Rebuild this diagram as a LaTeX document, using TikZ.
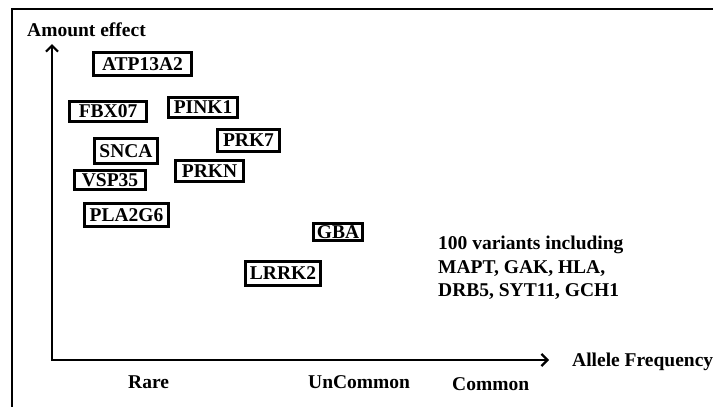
\documentclass[tikz,border=0pt]{standalone}
\usepackage{fontspec}
\setmainfont{Liberation Serif}
\usetikzlibrary{arrows.meta}
\tikzset{
  gene/.style={draw, line width=2.8pt, inner sep=0pt, font=\bfseries\fontsize{19.5}{23}\selectfont,
    text height=12.9pt, text depth=0pt},
  lbl/.style={inner sep=0pt, anchor=west, font=\bfseries\fontsize{19.5}{23}\selectfont,
    text height=12.9pt, text depth=0pt},
  axis/.style={line width=2.2pt, {Straight Barb[length=6pt,width=12pt,line width=2.2pt]}-{Straight Barb[length=6pt,width=12pt,line width=2.2pt]}},
}
\begin{document}
\begin{tikzpicture}[x=1pt,y=-1pt]
\useasboundingbox (0,0) rectangle (713,407);
% frame
\draw[line width=2.5pt] (12,408) -- (12,9) -- (714,9);
% axes
\coordinate (ytop) at (52,44);
\coordinate (orig) at (52,360);
\coordinate (xend) at (549,360);
\draw[axis] (ytop) -- (orig) -- (xend);
% axis labels
\node[lbl] (amount) at (27,30) {Amount effect};
\node[lbl] (allele) at (572,360) {Allele Frequency};
\node[lbl] (rare) at (128,382) {Rare};
\node[lbl] (uncommon) at (308,382) {UnCommon};
\node[lbl] (common) at (452,384) {Common};
% genes
\node[gene, minimum width=98pt, minimum height=23pt] (atp) at (142.5,64) {ATP13A2};
\node[gene, minimum width=77pt, minimum height=20pt] (fbx) at (108,111.5) {FBX07};
\node[gene, minimum width=69pt, minimum height=20pt] (pink) at (203,107.5) {PINK1};
\node[gene, minimum width=62pt, minimum height=22pt] (prk7) at (248.5,140.5) {PRK7};
\node[gene, minimum width=63pt, minimum height=25pt] (snca) at (126,151) {SNCA};
\node[gene, minimum width=68pt, minimum height=21pt] (prkn) at (209.5,171) {PRKN};
\node[gene, minimum width=71pt, minimum height=19pt] (vsp) at (110,180) {VSP35};
\node[gene, minimum width=84pt, minimum height=23pt] (pla) at (126.5,215) {PLA2G6};
\node[gene, minimum width=49pt, minimum height=17pt] (gba) at (338,232) {GBA};
\node[gene, minimum width=75pt, minimum height=24pt] (lrrk) at (283,273.5) {LRRK2};
% common variants
\node[lbl] (v1) at (438,243) {100 variants including};
\node[lbl] (v2) at (438,267) {MAPT, GAK, HLA,};
\node[lbl] (v3) at (438,290) {DRB5, SYT11, GCH1};
\end{tikzpicture}
\end{document}
